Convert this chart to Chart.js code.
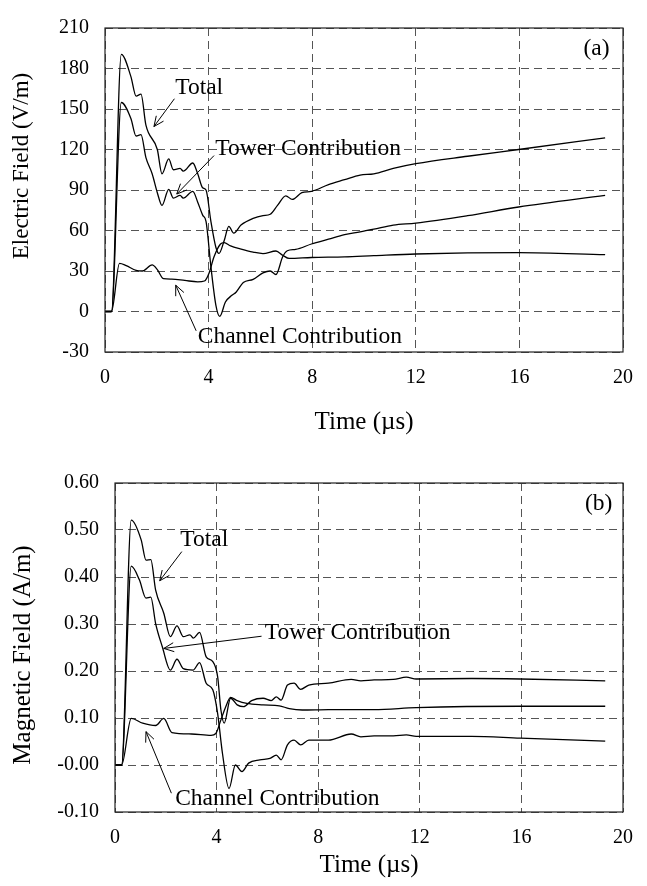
<!DOCTYPE html>
<html><head><meta charset="utf-8">
<script src="https://cdn.jsdelivr.net/npm/chart.js@4/dist/chart.umd.min.js"></script>
<style>
html,body{margin:0;padding:0;background:#fff;}
.box{position:absolute;left:0;width:647px;height:443px;}
</style>
</head><body>
<div class="box" style="top:0"><canvas id="ca" width="647" height="443"></canvas></div>
<div class="box" style="top:443px"><canvas id="cb" width="647" height="443"></canvas></div>
<script>
// ---- Panel (a): Electric field (V/m) vs time (µs) ----
const aTotalT = [0, 0.25, 0.63, 1.0, 1.2, 1.39, 1.58, 2.02, 2.2, 2.46, 2.64, 2.9, 3.02, 3.39, 3.58, 3.77, 3.9, 4.09, 4.28, 4.4, 4.6, 4.78, 4.97, 5.25, 5.72, 6.1, 6.38, 6.66, 6.98, 7.23, 7.6, 7.97, 8.63, 9.25, 9.85, 10.38, 11.13, 12.0, 14.0, 15.97, 19.31];
const aTotalE = [0, 0, 190.5, 174, 159.5, 161, 138, 120, 102, 113, 105, 106, 104, 110, 102, 91.6, 90, 66.6, 47.6, 43, 52.4, 63, 58, 64, 69, 71, 72, 78.6, 85.7, 83, 88, 89, 94, 97.6, 101, 102, 106, 109.5, 115, 120, 128.6];
const aTowerT = [0, 0.25, 0.63, 1.0, 1.2, 1.39, 1.58, 1.82, 2.02, 2.2, 2.46, 2.64, 2.9, 3.02, 3.39, 3.58, 3.77, 3.9, 4.09, 4.28, 4.43, 4.65, 4.9, 5.06, 5.34, 5.72, 6.1, 6.38, 6.6, 6.86, 7.04, 7.36, 7.97, 8.63, 9.25, 9.85, 10.38, 11.13, 12.0, 14.0, 15.97, 19.31];
const aTowerE = [0, 0, 154.8, 143, 130, 131, 114, 102, 88, 78.6, 90.5, 84, 86, 84, 89, 81, 71.4, 66.7, 33, 4.8, -3.6, 7, 12, 14.3, 21.4, 23.8, 28.6, 30, 27.4, 40.5, 45, 46, 50, 53.6, 57, 59, 61, 64, 65.5, 71, 77.4, 86];
const aChanT = [0, 0.25, 0.56, 0.82, 1.2, 1.44, 1.82, 2.02, 2.26, 2.58, 3.08, 3.58, 3.84, 4.02, 4.21, 4.46, 4.6, 4.85, 5.22, 5.72, 6.1, 6.6, 6.86, 7.11, 7.97, 9.25, 10.38, 12.0, 15.97, 19.31];
const aChanE = [0, 0, 35.7, 34, 30.5, 30, 34.5, 31, 24.3, 24, 23, 22, 22.6, 28.6, 40.5, 50, 51, 48.6, 46.4, 44, 42.9, 44.8, 41.7, 39.3, 40, 40.5, 41.4, 42.6, 43.6, 42.1];

// ---- Panel (b): Magnetic field (A/m) vs time (µs) ----
const bTotalT = [0, 0.26, 0.64, 1.03, 1.22, 1.41, 1.6, 1.92, 2.18, 2.44, 2.69, 2.95, 3.08, 3.33, 3.59, 3.85, 4.04, 4.17, 4.3, 4.55, 4.81, 5.06, 5.38, 5.83, 6.15, 6.35, 6.54, 6.79, 7.05, 7.31, 7.63, 8.4, 9.3, 9.68, 10.2, 10.96, 11.47, 11.86, 14.04, 15.96, 19.3];
const bTotalH = [0, 0, 0.521, 0.479, 0.436, 0.437, 0.372, 0.323, 0.273, 0.296, 0.273, 0.277, 0.27, 0.282, 0.23, 0.22, 0.188, 0.117, 0.089, 0.142, 0.128, 0.124, 0.137, 0.142, 0.137, 0.145, 0.138, 0.170, 0.174, 0.161, 0.170, 0.174, 0.182, 0.179, 0.181, 0.182, 0.187, 0.183, 0.184, 0.183, 0.179];
const bTowerT = [0, 0.26, 0.64, 0.96, 1.22, 1.41, 1.6, 1.86, 2.18, 2.44, 2.69, 3.08, 3.33, 3.59, 3.85, 4.04, 4.23, 4.49, 4.74, 5.0, 5.26, 5.7, 6.1, 6.35, 6.54, 6.79, 7.05, 7.31, 7.63, 8.4, 9.3, 9.68, 10.2, 10.96, 11.47, 11.86, 14.04, 15.96, 19.3];
const bTowerH = [0, 0, 0.423, 0.394, 0.355, 0.357, 0.301, 0.252, 0.202, 0.225, 0.205, 0.202, 0.218, 0.174, 0.160, 0.110, 0.025, -0.050, 0.0, -0.014, 0.004, 0.011, 0.014, 0.021, 0.011, 0.043, 0.053, 0.043, 0.053, 0.053, 0.066, 0.06, 0.062, 0.062, 0.064, 0.061, 0.061, 0.057, 0.051];
const bChanT = [0, 0.26, 0.64, 1.09, 1.6, 1.92, 2.24, 3.01, 3.78, 3.97, 4.17, 4.36, 4.55, 4.81, 5.19, 5.83, 6.47, 6.86, 7.37, 8.4, 9.68, 10.2, 11.86, 15.96, 19.3];
const bChanH = [0, 0, 0.099, 0.089, 0.084, 0.099, 0.069, 0.066, 0.063, 0.067, 0.096, 0.124, 0.144, 0.137, 0.131, 0.128, 0.126, 0.12, 0.117, 0.118, 0.118, 0.118, 0.122, 0.125, 0.125];

// ---- Axis tick labels ----
const timeTicks = [0, 4, 8, 12, 16, 20];
const aYTicks = ['-30', '0', '30', '60', '90', '120', '150', '180', '210'];
const bYTicks = ['-0.10', '-0.00', '0.10', '0.20', '0.30', '0.40', '0.50', '0.60'];

// ---- Annotation texts ----
const seriesNames = ['Total', 'Tower Contribution', 'Channel Contribution'];

const FONT = "'Liberation Serif', 'Times New Roman', Times, serif";
Chart.defaults.font.family = FONT;
Chart.defaults.color = '#000';

function pts(t, v) { return t.map((x, i) => ({x: x, y: v[i]})); }

const framePlugin = {
  id: 'frame',
  afterDatasetsDraw(chart, args, opts) {
    const ctx = chart.ctx, a = chart.chartArea, sx = chart.scales.x, sy = chart.scales.y;
    ctx.save();
    ctx.strokeStyle = '#222';
    ctx.lineWidth = 1.2;
    ctx.strokeRect(a.left, a.top, a.right - a.left, a.bottom - a.top);
    // y-axis title
    if (opts.yTitle) {
      const t = opts.yTitle;
      ctx.save();
      ctx.translate(t.cx, t.cy);
      ctx.rotate(-Math.PI / 2);
      ctx.font = t.size + 'px ' + FONT;
      ctx.fillStyle = '#000';
      ctx.textAlign = 'center';
      ctx.textBaseline = 'middle';
      ctx.fillText(t.text, 0, 0);
      ctx.restore();
    }
    // annotations
    ctx.fillStyle = '#000';
    ctx.strokeStyle = '#000';
    ctx.lineWidth = 1;
    (opts.items || []).forEach(it => {
      if (it.text) {
        ctx.font = '23.5px ' + FONT;
        ctx.textAlign = it.align || 'left';
        ctx.textBaseline = 'middle';
        ctx.fillText(it.text, sx.getPixelForValue(it.at[0]), sy.getPixelForValue(it.at[1]));
      }
      if (it.from) {
        const x1 = sx.getPixelForValue(it.from[0]), y1 = sy.getPixelForValue(it.from[1]);
        const x2 = sx.getPixelForValue(it.to[0]), y2 = sy.getPixelForValue(it.to[1]);
        ctx.beginPath(); ctx.moveTo(x1, y1); ctx.lineTo(x2, y2); ctx.stroke();
        const ang = Math.atan2(y2 - y1, x2 - x1), L = 11, w = 0.42;
        ctx.beginPath();
        ctx.moveTo(x2 - L * Math.cos(ang - w), y2 - L * Math.sin(ang - w));
        ctx.lineTo(x2, y2);
        ctx.lineTo(x2 - L * Math.cos(ang + w), y2 - L * Math.sin(ang + w));
        ctx.stroke();
      }
    });
    ctx.restore();
  }
};

function makeChart(id, sets, yMin, yMax, yStep, yLabels, yTitle, leftW, padTop, xH, items) {
  const gridColor = '#555';
  return new Chart(document.getElementById(id), {
    type: 'line',
    data: {
      datasets: sets.map((s, i) => ({
        label: seriesNames[i],
        data: s,
        borderColor: '#000',
        borderWidth: 1.3,
        pointRadius: 0,
        fill: false,
        cubicInterpolationMode: 'monotone'
      }))
    },
    options: {
      responsive: false,
      animation: false,
      layout: {padding: {top: padTop, right: 12, left: 0, bottom: 0}},
      plugins: {legend: {display: false}, tooltip: {enabled: false}, frame: {items: items, yTitle: yTitle}},
      scales: {
        x: {
          type: 'linear', min: 0, max: 20,
          afterBuildTicks: s => { s.ticks = timeTicks.map(v => ({value: v})); },
          afterFit: s => { s.height = xH; },
          grid: {color: gridColor, lineWidth: 1, drawTicks: false},
          border: {display: false, dash: [8, 5]},
          ticks: {padding: 14, font: {size: 20}, maxRotation: 0},
          title: {display: true, text: 'Time (\u00b5s)', font: {size: 25}, padding: {top: 0, bottom: 6}}
        },
        y: {
          type: 'linear', min: yMin, max: yMax,
          ticks: {stepSize: yStep, padding: 16, font: {size: 20}, callback: (v, i) => yLabels[i]},
          afterFit: s => { s.width = leftW; },
          grid: {color: gridColor, lineWidth: 1, drawTicks: false},
          border: {display: false, dash: [8, 5]}
        }
      }
    },
    plugins: [framePlugin]
  });
}

makeChart('ca', [pts(aTotalT, aTotalE), pts(aTowerT, aTowerE), pts(aChanT, aChanE)],
  -30, 210, 30, aYTicks, {text: 'Electric Field (V/m)', size: 23, cx: 22, cy: 166}, 105, 16, 91, [
    {text: seriesNames[0], at: [2.71, 165.7]},
    {from: [2.68, 157.6], to: [1.89, 137]},
    {text: seriesNames[1], at: [4.26, 120.4]},
    {from: [4.21, 115.5], to: [2.77, 87]},
    {text: seriesNames[2], at: [3.58, -18.6]},
    {from: [3.52, -14.3], to: [2.73, 19.5]},
    {text: '(a)', at: [18.98, 194.3], align: 'center'}
  ]);

makeChart('cb', [pts(bTotalT, bTotalH), pts(bTowerT, bTowerH), pts(bChanT, bChanH)],
  -0.1, 0.6, 0.1, bYTicks, {text: 'Magnetic Field (A/m)', size: 25, cx: 23, cy: 212}, 115, 40, 74, [
    {text: seriesNames[0], at: [2.57, 0.479]},
    {from: [2.63, 0.454], to: [1.76, 0.392]},
    {text: seriesNames[1], at: [5.9, 0.281]},
    {from: [5.77, 0.274], to: [1.92, 0.248]},
    {text: seriesNames[2], at: [2.37, -0.072]},
    {from: [2.22, -0.06], to: [1.22, 0.071]},
    {text: '(b)', at: [19.04, 0.555], align: 'center'}
  ]);
</script>
</body></html>
